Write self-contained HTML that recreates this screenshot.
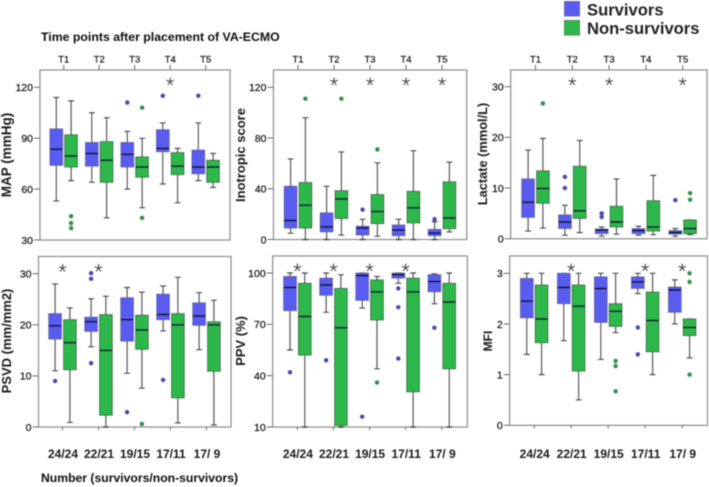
<!DOCTYPE html>
<html lang="en">
<head>
<meta charset="utf-8">
<title>Time points after placement of VA-ECMO</title>
<style>
html,body{margin:0;padding:0;background:#fff;}
svg{display:block;font-family:"Liberation Sans",sans-serif;}
</style>
</head>
<body>
<svg id="figure" xmlns="http://www.w3.org/2000/svg" width="709" height="487" viewBox="0 0 709 487">
  <defs><filter id="soft" x="-5%" y="-5%" width="110%" height="110%"><feGaussianBlur stdDeviation="0.45"/></filter></defs>
  <g id="root" filter="url(#soft)">
    <text x="41" y="41" font-size="12.3" font-weight="bold" fill="#111">Time points after placement of VA-ECMO</text>
    <text x="41" y="482" font-size="12.2" font-weight="bold" fill="#111">Number (survivors/non-survivors)</text>
    <g>
      <rect x="564.5" y="1.5" width="15" height="14.5" fill="#5a5cf0" stroke="#6a6ab0"/>
      <text x="587" y="15.5" font-size="16.6" font-weight="bold" fill="#222">Survivors</text>
      <rect x="564.5" y="20.5" width="15" height="14.5" fill="#2fb84c" stroke="#4d8a5c"/>
      <text x="587" y="34" font-size="16.6" font-weight="bold" fill="#222">Non-survivors</text>
    </g>
  </g>
</svg>
<script>
// Shared labels
const timePoints = ['T1', 'T2', 'T3', 'T4', 'T5'];
const sampleCounts = ['24/24', '22/21', '19/15', '17/11', '17/ 9'];

// Each box: [lower whisker, Q1, median, Q3, upper whisker]
const mapTicks = [30, 60, 90, 120];
const mapSurvivors = [[53,74,83.5,95.5,114],[64,73.5,81,87.5,105],[60,73,80.5,87.5,94],[63,82,84,95,99],[65,69,73,83,99]];
const mapNonSurvivors = [[65,73,79.5,92,112],[43,64,77,88,102],[49,67,73,79,90],[52,68.5,73.5,81.5,84],[61,64,73,77,81]];
const mapSurvivorOutliers = [[],[],[111],[115],[115]];
const mapNonSurvivorOutliers = [[44,40,37],[],[108,43],[],[]];
const mapStars = ['T4'];

const inoTicks = [0, 40, 80, 120];
const inoSurvivors = [[5,9,15,42,63.5],[0,6,10,21,42],[0,3.5,9,10.5,16],[0,3,7.5,11.5,16],[0,3,5,8,14]];
const inoNonSurvivors = [[0,9,27,45,96],[3.5,16.5,32,38.5,69],[2.5,12.5,22,35.5,60.5],[0,13,25,38,70],[6,8.5,17,45.5,61]];
const inoSurvivorOutliers = [[],[],[23.5],[],[16]];
const inoNonSurvivorOutliers = [[111],[111],[71],[],[]];
const inoStars = ['T2', 'T3', 'T4', 'T5'];

const lacTicks = [0, 10, 20, 30];
const lacSurvivors = [[1.5,4.2,7.2,11.8,17.5],[0.7,2,3.3,4.7,6.6],[0.5,1,1.7,1.9,2.3],[0.7,1,1.6,2,2.5],[0.5,0.9,1.2,1.6,2]];
const lacNonSurvivors = [[2.1,7,9.9,13.4,19.8],[1.2,4,5.5,14.3,19.4],[0.9,2.3,3.3,6.4,11.8],[0.8,1.5,2.3,7.5,12.5],[0.8,1,2,3.7,3.7]];
const lacSurvivorOutliers = [[],[12.2,10],[5,4.3],[],[7.6]];
const lacNonSurvivorOutliers = [[26.7],[],[],[],[9,7.7]];
const lacStars = ['T2', 'T3', 'T5'];

const psvdTicks = [0, 10, 20, 30];
const psvdSurvivors = [[11,17.2,19.8,22.2,28],[15.7,18.7,20.6,21.5,25.1],[10.5,16.8,21,25.3,27.3],[18.8,21,22,26,27.6],[15.1,19.9,21.7,24.3,26.3]];
const psvdNonSurvivors = [[0.9,11.2,16.5,21,23.3],[0,2.3,15,22,25.6],[7.6,15.2,19,21.9,26.4],[0.8,5.7,20,22.2,29.3],[0.4,10.9,20,20.6,24.8]];
const psvdSurvivorOutliers = [[9],[30.1,29,12.5],[2.9],[9.2],[]];
const psvdNonSurvivorOutliers = [[],[],[0.6],[],[]];
const psvdStars = ['T1', 'T2'];

const ppvTicks = [10, 40, 70, 100];
const ppvSurvivors = [[55,78,91.5,98,100],[77,87,93,97,100],[79.5,84,98.5,100,100],[94,97,99,100,100],[82,89,95,99,99.5]];
const ppvNonSurvivors = [[10,52,74.6,94,100],[10,11,68,91,99],[44,72.5,89,96,98],[10,30.5,89,97,100],[10,44,83,94,100]];
const ppvSurvivorOutliers = [[42],[49],[16],[91,80,50],[68]];
const ppvNonSurvivorOutliers = [[],[],[36],[],[]];
const ppvStars = ['T1', 'T2', 'T3', 'T4'];

const mfiTicks = [0, 1, 2, 3];
const mfiSurvivors = [[1.4,2.12,2.45,2.9,3],[1.67,2.4,2.72,3,3],[1.3,2.03,2.7,2.93,3],[2.6,2.7,2.83,2.93,3],[2,2.23,2.67,2.73,2.87]];
const mfiNonSurvivors = [[1,1.63,2.1,2.77,3],[0.5,1.07,2.35,2.77,3],[1.83,1.95,2.25,2.4,3],[1,1.45,2.07,2.63,3],[1.33,1.77,1.93,2.1,2.1]];
const mfiSurvivorOutliers = [[],[],[],[1.93,1.4],[]];
const mfiNonSurvivorOutliers = [[],[],[1.27,1.17,0.67],[],[3,2.83,1]];
const mfiStars = ['T2', 'T4', 'T5'];

const SVGNS = 'http://www.w3.org/2000/svg';
const root = document.getElementById('root');

function make(parent, tag, attrs, text) {
  const el = document.createElementNS(SVGNS, tag);
  for (const k in attrs) el.setAttribute(k, attrs[k]);
  if (text !== undefined) el.textContent = text;
  parent.appendChild(el);
  return el;
}

const COLORS = {
  survivors: { fill: '#5a5cf0', edge: '#5f60a8', dot: '#4a4ab8' },
  nonSurvivors: { fill: '#2fb84c', edge: '#2f6f40', dot: '#2a9648' }
};

function drawBox(g, key, cx, stats, yScale, color, halfW) {
  const [lo, q1, med, q3, hi] = stats;
  const whisker = make(g, 'path', {
    d: `M${cx} ${yScale(lo)}V${yScale(q1)}M${cx} ${yScale(q3)}V${yScale(hi)}M${cx - 3} ${yScale(lo)}H${cx + 3}M${cx - 3} ${yScale(hi)}H${cx + 3}`,
    stroke: '#4a4a4a', 'stroke-width': 1.4, fill: 'none'
  });
  
  
  const box = make(g, 'rect', {
    x: cx - halfW, y: yScale(q3), width: halfW * 2, height: Math.max(0.5, yScale(q1) - yScale(q3)),
    fill: color.fill, stroke: color.edge, 'stroke-width': 1
  });
  
  
  const median = make(g, 'line', {
    x1: cx - halfW, x2: cx + halfW, y1: yScale(med), y2: yScale(med),
    stroke: '#0a0a30', 'stroke-width': 1.7
  });
  
  
}

function drawPanel(p) {
  const g = make(root, 'g', {});
  
  

  const yMin = p.ticks[0], yMax = p.ticks[p.ticks.length - 1];
  const yScale = v => p.yLow + (v - yMin) * (p.yHigh - p.yLow) / (yMax - yMin);
  const xScale = i => p.xFirst + i * p.xStep;

  const frame = make(g, 'rect', {
    x: p.left, y: p.top, width: p.right - p.left, height: p.bottom - p.top,
    fill: '#fff', stroke: '#8e8e8e', 'stroke-width': 1.3
  });
  
  

  p.ticks.forEach(t => {
    const y = yScale(t);
    const tick = make(g, 'line', { x1: p.left - 6, x2: p.left, y1: y, y2: y, stroke: '#666', 'stroke-width': 1 });
    
    
    const label = make(g, 'text', { x: p.left - 7, y: y + 3.8, 'text-anchor': 'end', 'font-size': 10.5, fill: '#111', stroke: '#111', 'stroke-width': 0.2 }, String(t));
    
    
  });

  const title = make(g, 'text', {
    transform: `translate(${p.titleX} ${p.titleY}) rotate(-90)`,
    'text-anchor': 'middle', 'font-size': p.titleSize, 'font-weight': 'bold', fill: '#1a1a1a'
  }, p.title);
  
  

  timePoints.forEach((tp, i) => {
    const x = xScale(i);
    if (p.topAxis) {
      const tick = make(g, 'line', { x1: x, x2: x, y1: p.top - 5, y2: p.top, stroke: '#666', 'stroke-width': 1 });
      
      
      const label = make(g, 'text', { x: x, y: p.top - 7.5, 'text-anchor': 'middle', 'font-size': 9.5, fill: '#111', stroke: '#111', 'stroke-width': 0.2 }, tp);
      
      
    } else {
      const tick = make(g, 'line', { x1: x, x2: x, y1: p.bottom, y2: p.bottom + 3, stroke: '#666', 'stroke-width': 1 });
      
      
      const label = make(g, 'text', { x: x + 0.5, y: 458, 'text-anchor': 'middle', 'font-size': 12, 'font-weight': 'bold', fill: '#1a1a1a' }, sampleCounts[i]);
      
      
    }

    const xBlue = x - 7.4, xGreen = x + 7.4;
    drawBox(g, `${p.name}-survivors-${tp}`, xBlue, p.survivors[i], yScale, COLORS.survivors, 6.4);
    drawBox(g, `${p.name}-non-survivors-${tp}`, xGreen, p.nonSurvivors[i], yScale, COLORS.nonSurvivors, 6.4);

    p.survivorOutliers[i].forEach(v => {
      const dot = make(g, 'circle', { cx: xBlue, cy: yScale(v), r: 2.4, fill: COLORS.survivors.dot });
      
      
    });
    p.nonSurvivorOutliers[i].forEach(v => {
      const dot = make(g, 'circle', { cx: xGreen, cy: yScale(v), r: 2.4, fill: COLORS.nonSurvivors.dot });
      
      
    });
  });

  p.stars.forEach(tp => {
    const x = xScale(timePoints.indexOf(tp));
    const star = make(g, 'text', { x: x, y: p.top + 23, 'text-anchor': 'middle', 'font-size': 22, fill: '#333' }, '*');
    
    
  });
}

drawPanel({ name: 'map', title: 'MAP (mmHg)', titleSize: 13.5, titleX: 11, titleY: 155, topAxis: true,
  left: 40, right: 230, top: 70, bottom: 240, yLow: 240, yHigh: 87.3, xFirst: 63.7, xStep: 35.5,
  ticks: mapTicks, survivors: mapSurvivors, nonSurvivors: mapNonSurvivors,
  survivorOutliers: mapSurvivorOutliers, nonSurvivorOutliers: mapNonSurvivorOutliers, stars: mapStars });

drawPanel({ name: 'inotropic', title: 'Inotropic score', titleSize: 13, titleX: 245, titleY: 155, topAxis: true,
  left: 273.5, right: 466.7, top: 70, bottom: 239.5, yLow: 239.5, yHigh: 87.3, xFirst: 298, xStep: 36,
  ticks: inoTicks, survivors: inoSurvivors, nonSurvivors: inoNonSurvivors,
  survivorOutliers: inoSurvivorOutliers, nonSurvivorOutliers: inoNonSurvivorOutliers, stars: inoStars });

drawPanel({ name: 'lactate', title: 'Lactate (mmol/L)', titleSize: 12.8, titleX: 487, titleY: 154, topAxis: true,
  left: 510.7, right: 707, top: 70, bottom: 238.7, yLow: 238.7, yHigh: 86.7, xFirst: 535.5, xStep: 36.8,
  ticks: lacTicks, survivors: lacSurvivors, nonSurvivors: lacNonSurvivors,
  survivorOutliers: lacSurvivorOutliers, nonSurvivorOutliers: lacNonSurvivorOutliers, stars: lacStars });

drawPanel({ name: 'psvd', title: 'PSVD (mm/mm2)', titleSize: 13, titleX: 11, titleY: 341, topAxis: false,
  left: 38.5, right: 231, top: 256.5, bottom: 427, yLow: 427, yHigh: 273.7, xFirst: 62.5, xStep: 36,
  ticks: psvdTicks, survivors: psvdSurvivors, nonSurvivors: psvdNonSurvivors,
  survivorOutliers: psvdSurvivorOutliers, nonSurvivorOutliers: psvdNonSurvivorOutliers, stars: psvdStars });

drawPanel({ name: 'ppv', title: 'PPV (%)', titleSize: 13, titleX: 245, titleY: 341, topAxis: false,
  left: 272.7, right: 467.3, top: 256, bottom: 427, yLow: 427, yHigh: 273, xFirst: 297.4, xStep: 36.1,
  ticks: ppvTicks, survivors: ppvSurvivors, nonSurvivors: ppvNonSurvivors,
  survivorOutliers: ppvSurvivorOutliers, nonSurvivorOutliers: ppvNonSurvivorOutliers, stars: ppvStars });

drawPanel({ name: 'mfi', title: 'MFI', titleSize: 12, titleX: 492, titleY: 341, topAxis: false,
  left: 509.7, right: 707.5, top: 256, bottom: 425.3, yLow: 425.3, yHigh: 273.3, xFirst: 534.2, xStep: 37,
  ticks: mfiTicks, survivors: mfiSurvivors, nonSurvivors: mfiNonSurvivors,
  survivorOutliers: mfiSurvivorOutliers, nonSurvivorOutliers: mfiNonSurvivorOutliers, stars: mfiStars });
</script>
</body>
</html>
